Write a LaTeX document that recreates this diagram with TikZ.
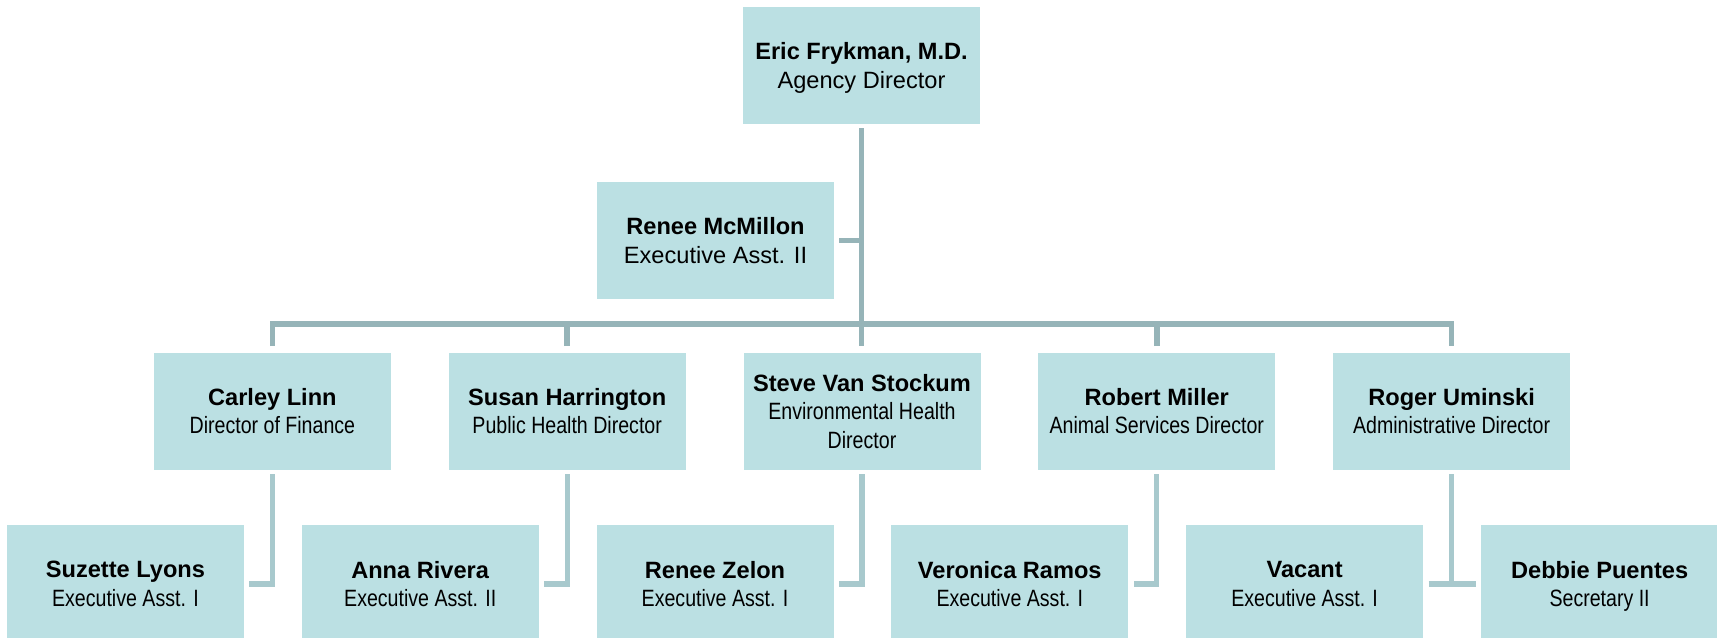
\documentclass[tikz,border=0pt]{standalone}
\usepackage{fontspec}
\setmainfont{Liberation Sans}
\newfontfamily\narrowfont[FakeStretch=0.83]{Liberation Sans}
\usepackage{xcolor}
\usepackage{tikz}
\usetikzlibrary{positioning,calc}

\definecolor{boxfill}{RGB}{187,224,227}
\definecolor{trunkline}{RGB}{150,180,184}
\definecolor{branchline}{RGB}{168,201,205}

\begin{document}
\begin{tikzpicture}[
    person/.style={rectangle, fill=boxfill, minimum width=118.5pt, minimum height=58.5pt, inner sep=0pt, text depth=0pt, align=center, font=\fontsize{11.8}{14.2}\selectfont},
    trunk/.style={draw=trunkline, line width=2.8pt},
    branch/.style={draw=branchline, line width=2.6pt}
]
\useasboundingbox (0,0) rectangle (858.5pt,-318.5pt);

\node[person] (agency) at (430.75pt,-32.75pt) {\textbf{Eric Frykman, M.D.}\\Agency Director};
\node[person, below=28.5pt of agency, xshift=-73pt] (mcmillon) {\textbf{Renee McMillon}\\Executive Asst. II};

\node[person, below=26.5pt of mcmillon, xshift=73.25pt] (stockum) {\textbf{Steve Van Stockum}\\{\narrowfont Environmental Health}\\{\narrowfont Director}};
\node[person, left=28.5pt of stockum] (harrington) {\textbf{Susan Harrington}\\{\narrowfont Public Health Director}};
\node[person, left=28.5pt of harrington] (linn) {\textbf{Carley Linn}\\{\narrowfont Director of Finance}};
\node[person, right=28.5pt of stockum] (miller) {\textbf{Robert Miller}\\{\narrowfont Animal Services Director}};
\node[person, right=28.5pt of miller] (uminski) {\textbf{Roger Uminski}\\{\narrowfont Administrative Director}};

\node[person, below=27.5pt of linn, xshift=-73.5pt] (lyons) {\textbf{Suzette Lyons}\\{\narrowfont Executive Asst. I}};
\node[person, below=27.5pt of harrington, xshift=-73.5pt] (rivera) {\textbf{Anna Rivera}\\{\narrowfont Executive Asst. II}};
\node[person, below=27.5pt of stockum, xshift=-73.5pt] (zelon) {\textbf{Renee Zelon}\\{\narrowfont Executive Asst. I}};
\node[person, below=27.5pt of miller, xshift=-73.5pt] (ramos) {\textbf{Veronica Ramos}\\{\narrowfont Executive Asst. I}};
\node[person, below=27.5pt of uminski, xshift=-73.5pt] (vacant) {\textbf{Vacant}\\{\narrowfont Executive Asst. I}};
\node[person, below=27.5pt of uminski, xshift=74pt] (puentes) {\textbf{Debbie Puentes}\\{\narrowfont Secretary II}};

\coordinate[above=14pt of stockum.north] (bus);

% director level
\draw[trunk] ([yshift=-2pt]agency.south) -- ([yshift=3pt]agency.south |- stockum.north);
\draw[trunk] ([xshift=2.5pt]mcmillon.east) -- (mcmillon.east -| agency.south);
\draw[trunk] ([yshift=3pt]linn.north) |- (bus) -| ([yshift=3pt]uminski.north);
\draw[trunk] ([yshift=3pt]harrington.north) -- (harrington.north |- bus);
\draw[trunk] ([yshift=3pt]miller.north) -- (miller.north |- bus);

% assistants
\draw[branch] ([yshift=-2pt]linn.south) |- ([xshift=2.5pt]lyons.east);
\draw[branch] ([yshift=-2pt]harrington.south) |- ([xshift=2.5pt]rivera.east);
\draw[branch] ([yshift=-2pt]stockum.south) |- ([xshift=2.5pt]zelon.east);
\draw[branch] ([yshift=-2pt]miller.south) |- ([xshift=2.5pt]ramos.east);
\draw[branch] ([yshift=-2pt]uminski.south) -- (uminski.south |- puentes.west);
\draw[branch] ([xshift=2.5pt]vacant.east) -- ([xshift=-2.5pt]puentes.west);

\end{tikzpicture}
\end{document}
